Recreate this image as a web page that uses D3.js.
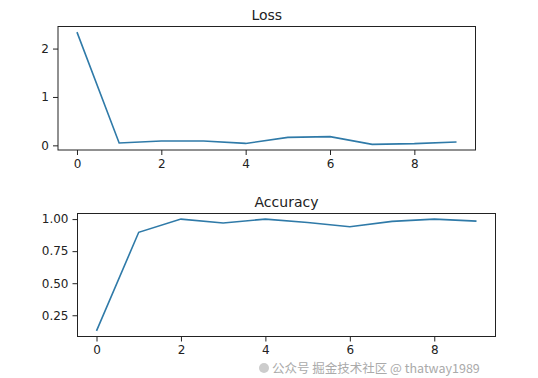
<!DOCTYPE html>
<html>
<head>
<meta charset="utf-8">
<script src="https://cdn.jsdelivr.net/npm/d3@7"></script>
<style>
  body { margin: 0; background: #fff; }
  svg { display: block; font-family: "DejaVu Sans", sans-serif; }
</style>
</head>
<body>
<div id="chart"></div>
<script>
var epochs = [0, 1, 2, 3, 4, 5, 6, 7, 8, 9];
var lossValues = [2.34, 0.05, 0.09, 0.09, 0.04, 0.165, 0.18, 0.02, 0.035, 0.07];
var accValues = [0.128, 0.897, 1.0, 0.969, 1.0, 0.974, 0.94, 0.982, 1.0, 0.984];
var xTicks = [0, 2, 4, 6, 8];
var lossTicks = [0, 1, 2];
var accTicks = [0.25, 0.50, 0.75, 1.00];

var svg = d3.select("#chart").append("svg")
    .attr("width", 538)
    .attr("height", 378);

// matplotlib-like 5% margins around data
function padded(vals) {
  var ext = d3.extent(vals), pad = (ext[1] - ext[0]) * 0.05;
  return [ext[0] - pad, ext[1] + pad];
}

function drawPanel(box, values, yTicks, yFmt, title) {
  var x = d3.scaleLinear().domain(padded(epochs)).range([box.left, box.right]);
  var y = d3.scaleLinear().domain(padded(values)).range([box.bottom, box.top]);

  var g = svg.append("g");

  g.append("path")
    .datum(epochs.map(function (e, i) { return [e, values[i]]; }))
    .attr("fill", "none")
    .attr("stroke", "#2f7aa8")
    .attr("stroke-width", 1.6)
    .attr("d", d3.line().x(function (d) { return x(d[0]); }).y(function (d) { return y(d[1]); }));

  var xAxis = g.append("g")
    .attr("transform", "translate(0," + box.bottom + ")")
    .call(d3.axisBottom(x).tickValues(xTicks).tickSize(5).tickPadding(4).tickFormat(d3.format("d")));
  var yAxis = g.append("g")
    .attr("transform", "translate(" + box.left + ",0)")
    .call(d3.axisLeft(y).tickValues(yTicks).tickSize(5).tickPadding(4).tickFormat(yFmt));

  [xAxis, yAxis].forEach(function (a) {
    a.select(".domain").remove();
    a.selectAll("line").attr("stroke", "#222");
    a.selectAll("text").attr("fill", "#222").style("font-size", "12px").style("font-family", "DejaVu Sans");
  });

  g.append("rect")
    .attr("x", box.left).attr("y", box.top)
    .attr("width", box.right - box.left).attr("height", box.bottom - box.top)
    .attr("fill", "none").attr("stroke", "#222").attr("stroke-width", 1);

  g.append("text")
    .attr("x", (box.left + box.right) / 2)
    .attr("y", box.top - 7)
    .attr("text-anchor", "middle")
    .attr("fill", "#222")
    .style("font-size", "14px")
    .text(title);
}

drawPanel({left: 58, right: 475.5, top: 26.5, bottom: 150}, lossValues, lossTicks, d3.format("d"), "Loss");
drawPanel({left: 77.5, right: 495.5, top: 213.5, bottom: 336.5}, accValues, accTicks, d3.format(".2f"), "Accuracy");

// faint watermark
svg.append("circle").attr("cx", 264).attr("cy", 368).attr("r", 5).attr("fill", "#ccc");
svg.append("text")
  .attr("x", 272).attr("y", 373)
  .attr("fill", "#aaa")
  .style("font-size", "12.5px")
  .style("font-family", "Noto Sans CJK SC")
  .text("公众号  掘金技术社区 @ thatway1989");
</script>
</body>
</html>
